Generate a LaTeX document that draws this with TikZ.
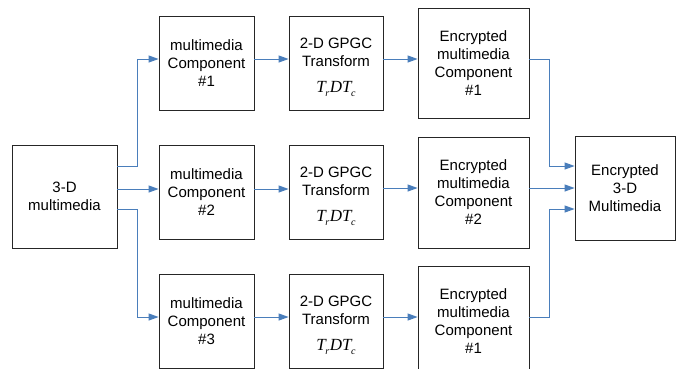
\documentclass[tikz,border=0pt]{standalone}
\usepackage{fontspec}
\setmainfont{Liberation Sans}
\newfontfamily\tnr{Liberation Serif}
\usetikzlibrary{arrows.meta}

% the transform operator T_r D T_c
\newcommand{\trdtc}{{\tnr\itshape\fontsize{17}{17}\selectfont
  T\kern-0.5pt\raisebox{-4pt}{\fontsize{10}{10}\selectfont r}\kern0.5pt
  DT\kern-0.5pt\raisebox{-4pt}{\fontsize{10}{10}\selectfont c}}}
% transform box label, with a strut on top to set the block a little lower
\newcommand{\gpgclabel}{\rule{0pt}{20pt}2-D GPGC\\Transform\\[8pt]\trdtc}

\definecolor{flow}{HTML}{4A7EBB}
\definecolor{edge}{HTML}{262626}

\tikzset{
  blockbox/.style={draw=edge, line width=0.8pt, align=center, inner sep=0pt,
    font=\fontsize{15}{18}\selectfont},
  compbox/.style={blockbox, minimum width=95pt, minimum height=94pt},
  encbox/.style={blockbox, minimum width=111pt, minimum height=110pt},
  flowarrow/.style={draw=flow, line width=1pt,
    -{Triangle[length=10pt,width=7pt]}},
}

\begin{document}
\begin{tikzpicture}[x=1pt,y=-1pt]
\useasboundingbox (0,0) rectangle (676,368);

% row levels and routing columns
\coordinate (r1) at (0,59);
\coordinate (r2) at (0,189);
\coordinate (r3) at (0,317);
\coordinate (s1) at (0,166);
\coordinate (s3) at (0,209);
\coordinate (m2) at (0,188);
\coordinate (f1) at (0,166);
\coordinate (f3) at (0,209);
\coordinate (sx) at (137,0);
\coordinate (ex) at (549,0);

% source
\node[blockbox, minimum width=105pt, minimum height=103pt] (src) at (64.5,196.5)
  {3-D\\multimedia};

% component split
\node[compbox] (c1) at (206.5,63)  {multimedia\\Component\\\#1};
\node[compbox] (c2) at (206.5,192) {multimedia\\Component\\\#2};
\node[compbox] (c3) at (206.5,321) {multimedia\\Component\\\#3};

% 2-D GPGC transforms
\node[compbox, minimum width=94pt] (g1) at (336,63)  {\gpgclabel};
\node[compbox, minimum width=94pt] (g2) at (336,192) {\gpgclabel};
\node[compbox, minimum width=94pt] (g3) at (336,321) {\gpgclabel};

% encrypted components
\node[encbox] (e1) at (473.5,63)  {Encrypted\\multimedia\\Component\\\#1};
\node[encbox, minimum height=111pt] (e2) at (473.5,192.5)
  {Encrypted\\multimedia\\Component\\\#2};
\node[encbox] (e3) at (473.5,321) {Encrypted\\multimedia\\Component\\\#1};

% merged result
\node[blockbox, minimum width=100pt, minimum height=104pt] (fin) at (625,188)
  {Encrypted\\3-D\\Multimedia};

% split
\draw[flowarrow] (src.east |- s1) -- (sx |- s1) |- (c1.west |- r1);
\draw[flowarrow] (src.east |- r2) -- (c2.west |- r2);
\draw[flowarrow] (src.east |- s3) -- (sx |- s3) |- (c3.west |- r3);

% per-component chain
\draw[flowarrow] (c1.east |- r1) -- (g1.west |- r1);
\draw[flowarrow] (c2.east |- r2) -- (g2.west |- r2);
\draw[flowarrow] (c3.east |- r3) -- (g3.west |- r3);
\draw[flowarrow] (g1.east |- r1) -- (e1.west |- r1);
\draw[flowarrow] (g2.east |- m2) -- (e2.west |- m2);
\draw[flowarrow] (g3.east |- r3) -- (e3.west |- r3);

% merge
\draw[flowarrow] (e1.east |- r1) -- (ex |- r1) |- (fin.west |- f1);
\draw[flowarrow] (e2.east |- m2) -- (fin.west |- m2);
\draw[flowarrow] (e3.east |- r3) -- (ex |- r3) |- (fin.west |- f3);
\end{tikzpicture}
\end{document}
